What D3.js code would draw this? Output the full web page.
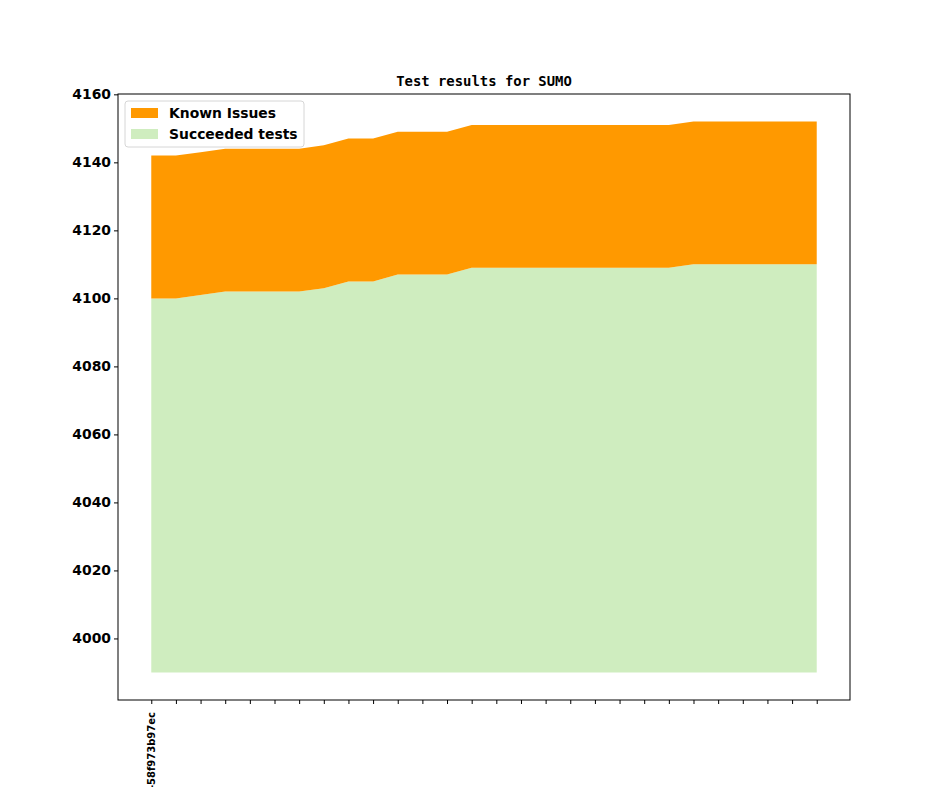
<!DOCTYPE html>
<meta charset="utf-8">
<script src="https://d3js.org/d3.v7.min.js"></script>
<style>
  body { margin: 0; background: #fff; }
</style>
<div id="chart"></div>
<script>

    // commits (only the first has a readable label)
    const commits = ["-58f973b97ec"].concat(d3.range(27).map(() => ""))
    // tests that passed at each commit
    const succeeded = [4100, 4100, 4101, 4102, 4102, 4102, 4102, 4103, 4105, 4105,
                       4107, 4107, 4107, 4109, 4109, 4109, 4109, 4109, 4109, 4109,
                       4109, 4109, 4110, 4110, 4110, 4110, 4110, 4110]
    // known issues stacked on top
    const knownIssues = [42, 42, 42, 42, 42, 42, 42, 42, 42, 42,
                         42, 42, 42, 42, 42, 42, 42, 42, 42, 42,
                         42, 42, 42, 42, 42, 42, 42, 42]
    const baseline = 3990
    const yTicks = [4000, 4020, 4040, 4060, 4080, 4100, 4120, 4140, 4160]

    const W = 944, H = 787
    const margin = {top: 94, right: 94, bottom: 87, left: 118},
        width = W - margin.left - margin.right,
        height = H - margin.top - margin.bottom

    const svg = d3.select("#chart")
      .append("svg")
        .attr("width", W)
        .attr("height", H)
    const g = svg.append("g")
        .attr("transform", `translate(${margin.left},${margin.top})`)

    const data = commits.map((c, i) => ({i: i, label: c, ok: succeeded[i], known: knownIssues[i]}))

    // matplotlib-like padding around the index range
    const x = d3.scaleLinear()
      .domain([-1.35, 28.35])
      .range([0, width])

    const maxTotal = d3.max(data, d => d.ok + d.known)
    const pad = (maxTotal - baseline) * 0.05
    const y = d3.scaleLinear()
      .domain([baseline - pad, maxTotal + pad])
      .range([height, 0])

    // stacked areas
    g.append("path")
      .datum(data)
      .attr("fill", "#cfedbf")
      .attr("d", d3.area()
        .x(d => x(d.i))
        .y0(y(baseline))
        .y1(d => y(d.ok)))

    g.append("path")
      .datum(data)
      .attr("fill", "#ff9900")
      .attr("d", d3.area()
        .x(d => x(d.i))
        .y0(d => y(d.ok))
        .y1(d => y(d.ok + d.known)))

    // frame
    g.append("rect")
      .attr("width", width)
      .attr("height", height)
      .attr("fill", "none")
      .attr("stroke", "#000")
      .attr("stroke-width", 1)

    // y axis
    const yAxis = g.append("g")
      .call(d3.axisLeft(y).tickValues(yTicks).tickSize(4).tickPadding(3).tickFormat(d3.format("d")))
    yAxis.select(".domain").remove()
    yAxis.selectAll("text")
      .style("font-family", "DejaVu Sans")
      .style("font-weight", "bold")
      .style("font-size", "13.9px")
      .attr("fill", "#000")

    // x axis
    const xAxis = g.append("g")
      .attr("transform", `translate(0,${height})`)
      .call(d3.axisBottom(x).tickValues(d3.range(commits.length)).tickSize(4).tickFormat(() => ""))
    xAxis.select(".domain").remove()

    g.append("g")
      .selectAll("text")
      .data(data.filter(d => d.label))
      .join("text")
        .attr("transform", d => `translate(${x(d.i) + 3.7},${height + 12}) rotate(-90)`)
        .attr("text-anchor", "end")
        .style("font-family", "DejaVu Sans")
        .style("font-weight", "bold")
        .style("font-size", "10px")
        .text(d => d.label)

    // title
    svg.append("text")
      .attr("x", margin.left + width / 2)
      .attr("y", margin.top - 8)
      .attr("text-anchor", "middle")
      .style("font-family", "DejaVu Sans Mono")
      .style("font-weight", "bold")
      .style("font-size", "13.9px")
      .text("Test results for SUMO")

    // legend
    const legend = g.append("g").attr("transform", "translate(7,7)")
    legend.append("rect")
      .attr("width", 179)
      .attr("height", 46)
      .attr("rx", 3)
      .attr("fill", "#fff")
      .attr("fill-opacity", 0.8)
      .attr("stroke", "#d6d6d6")
    const items = [{name: "Known Issues", color: "#ff9900"}, {name: "Succeeded tests", color: "#cfedbf"}]
    items.forEach((it, k) => {
      legend.append("rect")
        .attr("x", 6)
        .attr("y", 7 + k * 21)
        .attr("width", 27)
        .attr("height", 10)
        .attr("fill", it.color)
      legend.append("text")
        .attr("x", 44)
        .attr("y", 17 + k * 21)
        .style("font-family", "DejaVu Sans")
        .style("font-weight", "bold")
        .style("font-size", "13.9px")
        .text(it.name)
    })

</script>
